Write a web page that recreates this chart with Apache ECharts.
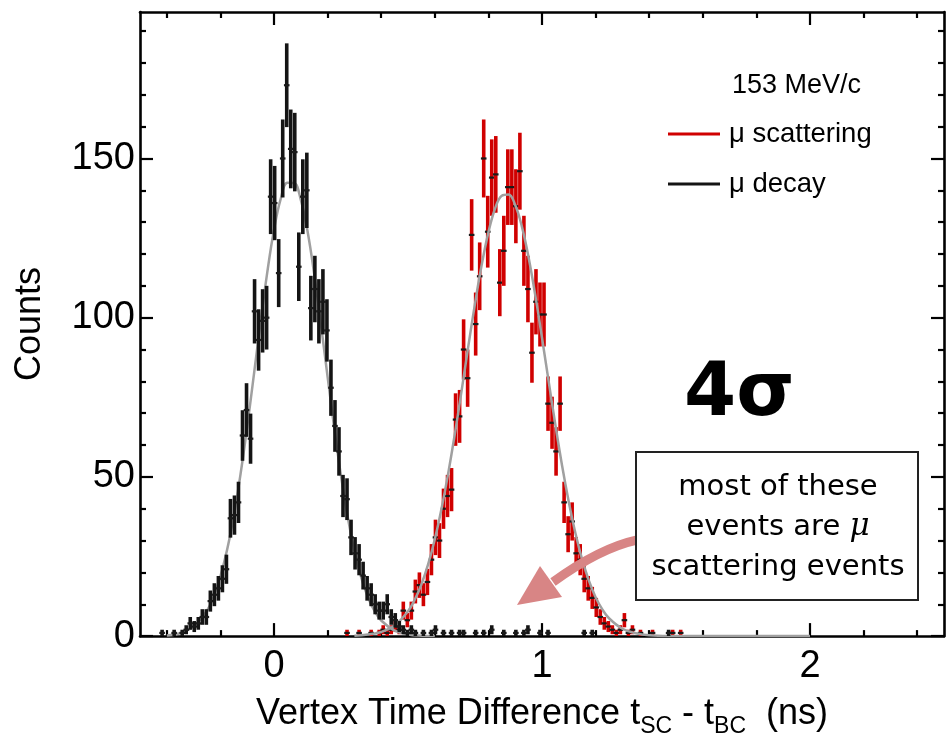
<!DOCTYPE html>
<html>
<head>
<meta charset="utf-8">
<script src="https://cdn.jsdelivr.net/npm/echarts@6/dist/echarts.min.js"></script>
<style>
  html, body { margin: 0; padding: 0; background: #fff; }
  #chart { width: 946px; height: 743px; }
</style>
</head>
<body>
<div id="chart"></div>
<script>
// Histogram binning: 200 bins of 0.015 ns from -0.5 ns
const histMin = -0.5;
const binWidth = 0.015;

// mu decay counts per bin (bin 0 starts at -0.5 ns)
const decayCounts = [
  0, 0, 0, 0, 0, 1, 0, 0, 1, 0,
  1, 2, 4, 3, 4, 6, 6, 11, 13, 15,
  18, 21, 37, 38, 42, 63, 71, 62, 102, 93,
  99, 100, 138, 136, 114, 150, 173, 153, 152, 116,
  138, 140, 103, 109, 102, 105, 96, 78, 66, 58,
  44, 43, 31, 26, 24, 19, 15, 13, 10, 8,
  8, 10, 6, 5, 3, 2, 1, 2, 1, 0,
  1, 0, 1, 2, 0, 1, 0, 1, 0, 1,
  1, 0, 0, 1, 0, 1, 0, 2, 0, 0,
  1, 0, 0, 1, 0, 1, 2, 0, 0, 1,
  0, 1, 0, 0, 0, 0, 0, 0, 0, 0,
  1, 0, 1, 0, 0, 0, 0, 0, 0, 0,
  0, 0, 0, 0, 0, 0, 0, 0, 0, 0,
  0, 1, 0, 0, 0, 0, 0, 0, 0, 0
];

// mu scattering counts per bin (bin 0 starts at -0.5 ns)
const scatterCounts = [
  0, 0, 0, 0, 0, 0, 0, 0, 0, 0,
  0, 0, 0, 0, 0, 0, 0, 0, 0, 0,
  0, 0, 0, 0, 0, 0, 0, 0, 0, 0,
  0, 0, 0, 0, 0, 0, 0, 0, 0, 0,
  0, 0, 0, 0, 0, 0, 0, 0, 0, 0,
  0, 1, 0, 0, 1, 0, 0, 1, 0, 1,
  2, 1, 2, 3, 2, 8, 5, 8, 14, 16,
  13, 17, 24, 31, 30, 40, 44, 46, 68, 69,
  90, 81, 126, 98, 113, 150, 127, 144, 145, 111,
  121, 141, 141, 135, 146, 121, 109, 89, 105, 101,
  101, 73, 67, 58, 73, 42, 32, 36, 26, 24,
  18, 15, 12, 9, 6, 4, 3, 2, 1, 2,
  5, 1, 2, 0, 1, 0, 0, 1, 0, 0,
  0, 0, 1, 0, 1, 0, 0, 0, 0, 0
];

// Gaussian fit curves (ns, counts)
const decayFitX = [-0.4, -0.35, -0.3, -0.25, -0.225, -0.2, -0.175, -0.15, -0.125, -0.1, -0.075, -0.05, -0.025,
  0, 0.025, 0.05, 0.075, 0.1, 0.125, 0.15, 0.175, 0.2, 0.225, 0.25, 0.275, 0.3, 0.325, 0.35, 0.375, 0.4, 0.45, 0.5, 0.55, 0.6];
const decayFitY = [0.2, 0.9, 3.0, 8.0, 12.5, 18.8, 27.1, 37.8, 50.8, 65.8, 82.1, 98.7, 114.3,
  127.6, 137.3, 142.4, 142.3, 137.0, 127.2, 113.7, 98.0, 81.4, 65.2, 50.3, 37.4, 26.8, 18.5, 12.3, 7.9, 4.9, 1.7, 0.5, 0.1, 0];

const scatterFitX = [0.3, 0.35, 0.4, 0.45, 0.5, 0.525, 0.55, 0.575, 0.6, 0.625, 0.65, 0.675, 0.7, 0.725,
  0.75, 0.775, 0.8, 0.825, 0.85, 0.875, 0.9, 0.925, 0.95, 0.975, 1.0, 1.025, 1.05, 1.075, 1.1, 1.125,
  1.15, 1.175, 1.2, 1.225, 1.25, 1.3, 1.35, 1.4, 1.5, 2.0];
const scatterFitY = [0.1, 0.5, 1.3, 3.3, 7.8, 11.4, 16.2, 22.5, 30.4, 40.0, 51.1, 63.6, 77.1, 91.0,
  104.4, 116.6, 126.8, 134.3, 138.3, 138.7, 135.4, 128.6, 118.9, 107.0, 93.7, 79.9, 66.3, 53.5, 42.1, 32.2,
  24.0, 17.4, 12.2, 8.4, 5.6, 2.3, 0.9, 0.3, 0, 0];

// Axis ticks
const xMajorTicks = [0, 1, 2];
const xMinorTicks = [-0.4, -0.2, 0.2, 0.4, 0.6, 0.8, 1.2, 1.4, 1.6, 1.8, 2.2, 2.4];
const yMajorTicks = [0, 50, 100, 150];
const yMinorTicks = [10, 20, 30, 40, 60, 70, 80, 90, 110, 120, 130, 140, 160, 170, 180, 190];

const xRange = [-0.5, 2.5];
const yRange = [0, 196];

const FONT = 'Liberation Sans, Arial, sans-serif';

function toPoints(counts) {
  const pts = [];
  counts.forEach(function (n, i) {
    if (n > 0) pts.push([histMin + (i + 0.5) * binWidth, n]);
  });
  return pts;
}

function zip(xs, ys) {
  return xs.map(function (x, i) { return [x, ys[i]]; });
}

// Vertical Poisson error bar with a small centre mark
function errorBar(color) {
  return function (params, api) {
    const x = api.value(0);
    const n = api.value(1);
    const err = Math.sqrt(n);
    const top = api.coord([x, n + err]);
    const bot = api.coord([x, Math.max(0, n - err)]);
    const mid = api.coord([x, n]);
    const w = 3.6;
    return {
      type: 'group',
      children: [
        { type: 'rect', shape: { x: top[0] - w / 2, y: top[1], width: w, height: bot[1] - top[1] },
          style: { fill: color } },
        { type: 'rect', shape: { x: mid[0] - 2.8, y: mid[1] - 1.1, width: 5.6, height: 2.2 },
          style: { fill: '#1a1a1a' } }
      ]
    };
  };
}

const tickLine = { color: '#000', width: 2.2 };

function xAxisDef(position, ticks, len, withLabels, showLine) {
  return {
    type: 'value', min: xRange[0], max: xRange[1], position: position,
    axisLine: { show: showLine, onZero: false, lineStyle: { color: '#000', width: 2.6 } },
    axisTick: { show: true, inside: true, length: len, customValues: ticks, lineStyle: tickLine },
    axisLabel: withLabels
      ? { show: true, customValues: ticks, fontSize: 38, fontFamily: FONT, color: '#000', margin: 11 }
      : { show: false },
    splitLine: { show: false }
  };
}

function yAxisDef(position, ticks, len, withLabels, showLine) {
  return {
    type: 'value', min: yRange[0], max: yRange[1], position: position,
    axisLine: { show: showLine, onZero: false, lineStyle: { color: '#000', width: 2.6 } },
    axisTick: { show: true, inside: true, length: len, customValues: ticks, lineStyle: tickLine },
    axisLabel: withLabels
      ? { show: true, customValues: ticks, fontSize: 38, fontFamily: FONT, color: '#000', margin: 5 }
      : { show: false },
    splitLine: { show: false }
  };
}

const xMain = xAxisDef('bottom', xMajorTicks, 13, true, true);
xMain.name = 'Vertex Time Difference t{sub|SC} - t{sub|BC}  (ns)';
xMain.nameLocation = 'middle';
xMain.nameGap = 77;
xMain.nameTextStyle = {
  fontSize: 36, fontFamily: FONT, color: '#000', lineHeight: 48, verticalAlign: 'middle',
  rich: { sub: { fontSize: 23, fontFamily: FONT, color: '#000', lineHeight: 23, verticalAlign: 'bottom' } }
};

const yMain = yAxisDef('left', yMajorTicks, 13, true, true);
yMain.name = 'Counts';
yMain.nameLocation = 'middle';
yMain.nameGap = 92;
yMain.nameTextStyle = { fontSize: 36, fontFamily: FONT, color: '#000' };

const chart = echarts.init(document.getElementById('chart'), null, { renderer: 'canvas' });

chart.setOption({
  backgroundColor: '#fff',
  animation: false,
  title: {
    text: '153 MeV/c', left: 732, top: 72, padding: 0,
    textStyle: { fontSize: 27, fontWeight: 'normal', fontFamily: FONT, color: '#000' }
  },
  legend: {
    orient: 'vertical', left: 668, top: 120, padding: 0,
    itemWidth: 52, itemHeight: 3, itemGap: 22, icon: 'rect', selectedMode: false,
    data: ['μ scattering', 'μ decay'],
    textStyle: { fontSize: 27.5, fontFamily: FONT, color: '#000', padding: [0, 0, 0, 4] }
  },
  grid: { left: 140, top: 12, right: 2, bottom: 106, containLabel: false },
  xAxis: [
    xMain,
    xAxisDef('bottom', xMinorTicks, 6, false, false),
    xAxisDef('top', xMajorTicks, 13, false, true),
    xAxisDef('top', xMinorTicks, 6, false, false)
  ],
  yAxis: [
    yMain,
    yAxisDef('left', yMinorTicks, 6, false, false),
    yAxisDef('right', yMajorTicks, 13, false, true),
    yAxisDef('right', yMinorTicks, 6, false, false)
  ],
  series: [
    {
      name: 'μ scattering', type: 'custom', clip: true, z: 3,
      itemStyle: { color: '#d00000' },
      renderItem: errorBar('#d00000'),
      encode: { x: 0, y: 1 },
      data: toPoints(scatterCounts)
    },
    {
      name: 'scattering fit', type: 'line', smooth: 0.4, showSymbol: false, z: 4, silent: true,
      lineStyle: { color: '#a0a0a0', width: 2.5 },
      data: zip(scatterFitX, scatterFitY)
    },
    {
      name: 'decay fit', type: 'line', smooth: 0.4, showSymbol: false, z: 4, silent: true,
      lineStyle: { color: '#a0a0a0', width: 2.5 },
      data: zip(decayFitX, decayFitY)
    },
    {
      name: 'μ decay', type: 'custom', clip: true, z: 5,
      itemStyle: { color: '#141414' },
      renderItem: errorBar('#141414'),
      encode: { x: 0, y: 1 },
      data: toPoints(decayCounts)
    }
  ],
  graphic: [
    {
      type: 'text', left: 684, top: 358, z: 20,
      style: { text: '4σ', fontSize: 75, fontWeight: 'bold', fontFamily: 'DejaVu Sans', fill: '#000' }
    },
    {
      type: 'bezierCurve', z: 19,
      shape: { x1: 637, y1: 540, x2: 553, y2: 582, cpx1: 600, cpy1: 548 },
      style: { stroke: '#d88585', lineWidth: 9, fill: null }
    },
    {
      type: 'polygon', z: 19,
      shape: { points: [[517, 605], [540, 566], [562, 597]] },
      style: { fill: '#d88585' }
    },
    {
      type: 'rect', z: 20,
      shape: { x: 636, y: 452, width: 282, height: 148 },
      style: { fill: '#fff', stroke: '#222', lineWidth: 2 }
    },
    {
      type: 'text', x: 778, y: 527, z: 21,
      style: {
        text: 'most of these\nevents are {it|μ}\nscattering events',
        fontSize: 29, fontFamily: 'DejaVu Sans', fill: '#000',
        align: 'center', verticalAlign: 'middle', lineHeight: 40,
        rich: { it: { fontSize: 31, fontStyle: 'italic', fontFamily: 'DejaVu Serif', lineHeight: 40 } }
      }
    }
  ]
});
</script>
</body>
</html>
